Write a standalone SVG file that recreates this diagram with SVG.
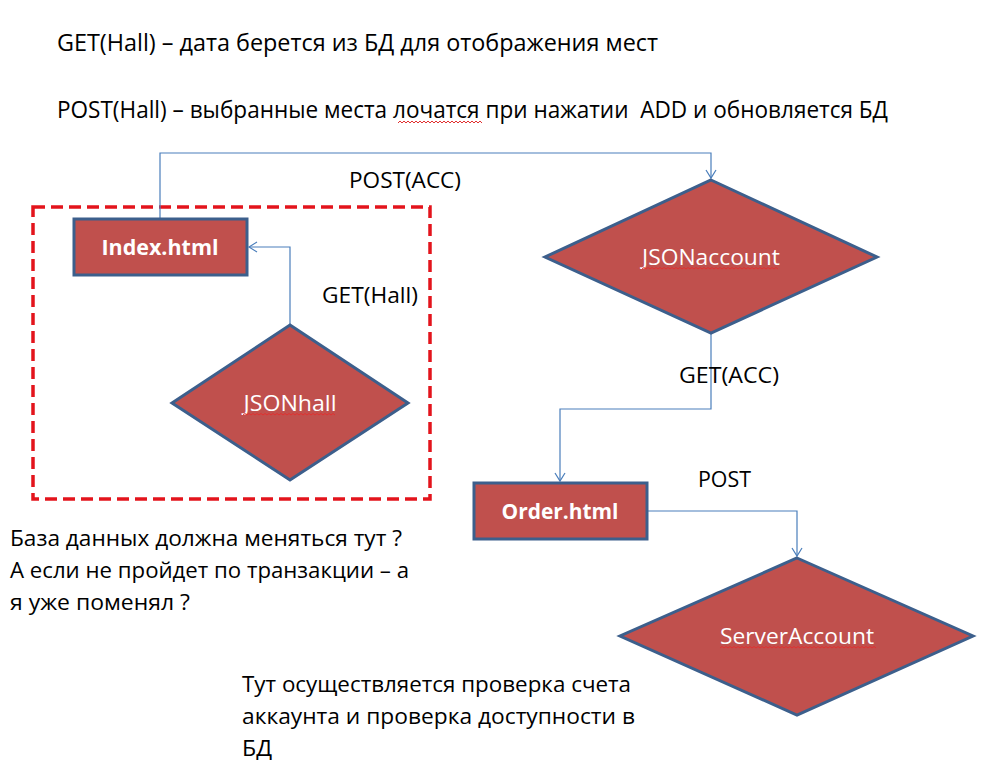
<svg xmlns="http://www.w3.org/2000/svg" width="996" height="765" viewBox="0 0 996 765">
<style>
.shape{fill:#c0504d;stroke:#3c5f8c;stroke-width:3;stroke-linejoin:miter}
.conn{fill:none;stroke:#4a7ebb;stroke-width:1.2}
.lbl{font-family:"Open Sans","Liberation Sans",sans-serif;font-size:21px;fill:#000}
.top{font-size:23px;white-space:pre}
.nl{font-family:"Open Sans","Liberation Sans",sans-serif;font-size:21px;fill:#fff;text-anchor:middle}
.nb{font-weight:bold}
.sq{fill:none;stroke:#e03030;stroke-width:1}
</style>
<defs>
<marker id="arr" markerWidth="12" markerHeight="12" refX="9" refY="6" orient="auto" markerUnits="userSpaceOnUse">
<path d="M1,1 L9,6 L1,11" fill="none" stroke="#4a7ebb" stroke-width="1.2"/>
</marker>
</defs>
<rect width="996" height="765" fill="#fff"/>

<g id="notes">
<text class="lbl top" x="57" y="51" textLength="601" lengthAdjust="spacingAndGlyphs">GET(Hall) – дата берется из БД для отображения мест</text>
<text class="lbl top" x="57" y="118" textLength="831" lengthAdjust="spacingAndGlyphs" xml:space="preserve">POST(Hall) – выбранные места лочатся при нажатии  ADD и обновляется БД</text>
<path class="sq" d="M398,123 l2,-2 l2,2 l2,-2 l2,2 l2,-2 l2,2 l2,-2 l2,2 l2,-2 l2,2 l2,-2 l2,2 l2,-2 l2,2 l2,-2 l2,2 l2,-2 l2,2 l2,-2 l2,2 l2,-2 l2,2 l2,-2 l2,2 l2,-2 l2,2 l2,-2 l2,2 l2,-2 l2,2 l2,-2 l2,2 l2,-2 l2,2 l2,-2 l2,2 l2,-2 l2,2 l2,-2 l2,2 l2,-2 l2,2"/>
<text class="lbl" x="10" y="546" textLength="392" lengthAdjust="spacingAndGlyphs">База данных должна меняться тут ?</text>
<text class="lbl" x="10" y="578" textLength="399" lengthAdjust="spacingAndGlyphs">А если не пройдет по транзакции – а</text>
<text class="lbl" x="10" y="610" textLength="180" lengthAdjust="spacingAndGlyphs">я уже поменял ?</text>
<text class="lbl" x="242" y="692" textLength="389" lengthAdjust="spacingAndGlyphs">Тут осуществляется проверка счета</text>
<text class="lbl" x="242" y="724" textLength="393" lengthAdjust="spacingAndGlyphs">аккаунта и проверка доступности в</text>
<text class="lbl" x="242" y="756" textLength="30" lengthAdjust="spacingAndGlyphs">БД</text>
</g>

<g id="group-box">
<rect x="33" y="207" width="397" height="292" fill="none" stroke="#e3141c" stroke-width="3.5" stroke-dasharray="12,6"/>
</g>

<g id="connectors">
<path class="conn" d="M160,219 V153 H711 V178" marker-end="url(#arr)"/>
<path class="conn" d="M290,325 V247 H249" marker-end="url(#arr)"/>
<path class="conn" d="M711,334 V409 H560 V481" marker-end="url(#arr)"/>
<path class="conn" d="M647,511 H797 V556" marker-end="url(#arr)"/>
<text class="lbl" x="349" y="188" textLength="112" lengthAdjust="spacingAndGlyphs">POST(ACC)</text>
<text class="lbl" x="322" y="303" textLength="96" lengthAdjust="spacingAndGlyphs">GET(Hall)</text>
<text class="lbl" x="679" y="383" textLength="100" lengthAdjust="spacingAndGlyphs">GET(ACC)</text>
<text class="lbl" x="698" y="487" textLength="53" lengthAdjust="spacingAndGlyphs">POST</text>
</g>

<g id="node-index">
<rect class="shape" x="74" y="219" width="173" height="56"/>
<text class="nl nb" x="160" y="255" textLength="117" lengthAdjust="spacingAndGlyphs">Index.html</text>
</g>

<g id="node-jsonhall">
<polygon class="shape" points="290,325 408,403 290,480 172,403"/>
<text class="nl" x="290" y="411" textLength="93" lengthAdjust="spacingAndGlyphs">JSONhall</text>
<path class="sq" d="M243,415 l2,-1.5 l2,1.5 l2,-1.5 l2,1.5 l2,-1.5 l2,1.5 l2,-1.5 l2,1.5 l2,-1.5 l2,1.5 l2,-1.5 l2,1.5 l2,-1.5 l2,1.5 l2,-1.5 l2,1.5 l2,-1.5 l2,1.5 l2,-1.5 l2,1.5 l2,-1.5 l2,1.5 l2,-1.5 l2,1.5 l2,-1.5 l2,1.5 l2,-1.5 l2,1.5 l2,-1.5 l2,1.5 l2,-1.5 l2,1.5 l2,-1.5 l2,1.5 l2,-1.5 l2,1.5 l2,-1.5 l2,1.5 l2,-1.5 l2,1.5 l2,-1.5 l2,1.5 l2,-1.5 l2,1.5 l2,-1.5 l2,1.5"/>
</g>

<g id="node-jsonaccount">
<polygon class="shape" points="711,180 877,257 711,333 545,257"/>
<text class="nl" x="711" y="265" textLength="138" lengthAdjust="spacingAndGlyphs">JSONaccount</text>
<path class="sq" d="M642,269 l2,-1.5 l2,1.5 l2,-1.5 l2,1.5 l2,-1.5 l2,1.5 l2,-1.5 l2,1.5 l2,-1.5 l2,1.5 l2,-1.5 l2,1.5 l2,-1.5 l2,1.5 l2,-1.5 l2,1.5 l2,-1.5 l2,1.5 l2,-1.5 l2,1.5 l2,-1.5 l2,1.5 l2,-1.5 l2,1.5 l2,-1.5 l2,1.5 l2,-1.5 l2,1.5 l2,-1.5 l2,1.5 l2,-1.5 l2,1.5 l2,-1.5 l2,1.5 l2,-1.5 l2,1.5 l2,-1.5 l2,1.5 l2,-1.5 l2,1.5 l2,-1.5 l2,1.5 l2,-1.5 l2,1.5 l2,-1.5 l2,1.5 l2,-1.5 l2,1.5 l2,-1.5 l2,1.5 l2,-1.5 l2,1.5 l2,-1.5 l2,1.5 l2,-1.5 l2,1.5 l2,-1.5 l2,1.5 l2,-1.5 l2,1.5 l2,-1.5 l2,1.5 l2,-1.5 l2,1.5 l2,-1.5 l2,1.5 l2,-1.5 l2,1.5"/>
</g>

<g id="node-order">
<rect class="shape" x="474" y="483" width="173" height="56"/>
<text class="nl nb" x="560" y="519" textLength="117" lengthAdjust="spacingAndGlyphs">Order.html</text>
</g>

<g id="node-serveraccount">
<polygon class="shape" points="797,558 973,636 797,715 620,636"/>
<text class="nl" x="797" y="644" textLength="154" lengthAdjust="spacingAndGlyphs">ServerAccount</text>
<path class="sq" d="M720,648 l2,-1.5 l2,1.5 l2,-1.5 l2,1.5 l2,-1.5 l2,1.5 l2,-1.5 l2,1.5 l2,-1.5 l2,1.5 l2,-1.5 l2,1.5 l2,-1.5 l2,1.5 l2,-1.5 l2,1.5 l2,-1.5 l2,1.5 l2,-1.5 l2,1.5 l2,-1.5 l2,1.5 l2,-1.5 l2,1.5 l2,-1.5 l2,1.5 l2,-1.5 l2,1.5 l2,-1.5 l2,1.5 l2,-1.5 l2,1.5 l2,-1.5 l2,1.5 l2,-1.5 l2,1.5 l2,-1.5 l2,1.5 l2,-1.5 l2,1.5 l2,-1.5 l2,1.5 l2,-1.5 l2,1.5 l2,-1.5 l2,1.5 l2,-1.5 l2,1.5 l2,-1.5 l2,1.5 l2,-1.5 l2,1.5 l2,-1.5 l2,1.5 l2,-1.5 l2,1.5 l2,-1.5 l2,1.5 l2,-1.5 l2,1.5 l2,-1.5 l2,1.5 l2,-1.5 l2,1.5 l2,-1.5 l2,1.5 l2,-1.5 l2,1.5 l2,-1.5 l2,1.5 l2,-1.5 l2,1.5 l2,-1.5 l2,1.5 l2,-1.5 l2,1.5 l2,-1.5 l2,1.5"/>
</g>
</svg>
